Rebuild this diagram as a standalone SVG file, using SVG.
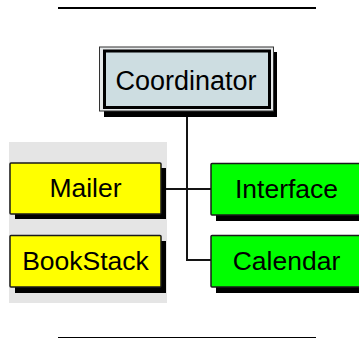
<svg xmlns="http://www.w3.org/2000/svg" width="359" height="339" viewBox="0 0 359 339">
  <style>
    .lbl { font-family: "Liberation Sans", Arial, sans-serif; font-size: 26.5px; fill: #000; text-anchor: middle; }
    .shadow { fill: #000; }
    .box { stroke: #1a1a1a; stroke-width: 1.5; }
    .yellow { fill: #ffff00; }
    .green { fill: #00ff00; }
    .wire { fill: none; stroke: #141414; stroke-width: 2; }
    .rule { stroke: #000; }
  </style>

  <rect width="359" height="339" fill="#ffffff"/>

  <!-- page rules -->
  <line class="rule" x1="58" y1="8" x2="316" y2="8" stroke-width="2"/>
  <line class="rule" x1="58" y1="337.5" x2="316" y2="337.5" stroke-width="1"/>

  <!-- shaded panel behind the yellow group -->
  <rect x="9" y="142" width="158" height="161" fill="#e5e5e5"/>

  <!-- connectors -->
  <g id="connectors">
    <line class="wire" x1="187" y1="116" x2="187" y2="261"/>
    <line class="wire" x1="161" y1="189" x2="211" y2="189"/>
    <line class="wire" x1="186" y1="260" x2="211" y2="260"/>
  </g>

  <g id="coordinator">
    <rect class="shadow" x="104" y="52" width="173" height="65"/>
    <rect x="99.5" y="47" width="174" height="64" fill="#e6e9ea" stroke="#333" stroke-width="1"/>
    <rect x="104.5" y="51" width="165" height="56.5" fill="#cddde1" stroke="#000" stroke-width="3"/>
    <text class="lbl" x="186" y="90" style="font-size:27px">Coordinator</text>
  </g>

  <g id="mailer">
    <rect class="shadow" x="15" y="168" width="151" height="51"/>
    <rect class="box yellow" x="10" y="163" width="151" height="51" rx="1"/>
    <text class="lbl" x="85.5" y="197">Mailer</text>
  </g>

  <g id="bookstack">
    <rect class="shadow" x="15" y="241" width="151" height="52"/>
    <rect class="box yellow" x="10" y="235.5" width="151" height="51.5" rx="1"/>
    <text class="lbl" x="85.5" y="270">BookStack</text>
  </g>

  <g id="interface">
    <rect class="shadow" x="216" y="169" width="151" height="52"/>
    <rect class="box green" x="211" y="163.5" width="151" height="51.5" rx="1"/>
    <text class="lbl" x="286.5" y="197.5">Interface</text>
  </g>

  <g id="calendar">
    <rect class="shadow" x="216" y="241" width="151" height="52"/>
    <rect class="box green" x="211" y="235.5" width="151" height="51.5" rx="1"/>
    <text class="lbl" x="286.5" y="269.5">Calendar</text>
  </g>
</svg>
